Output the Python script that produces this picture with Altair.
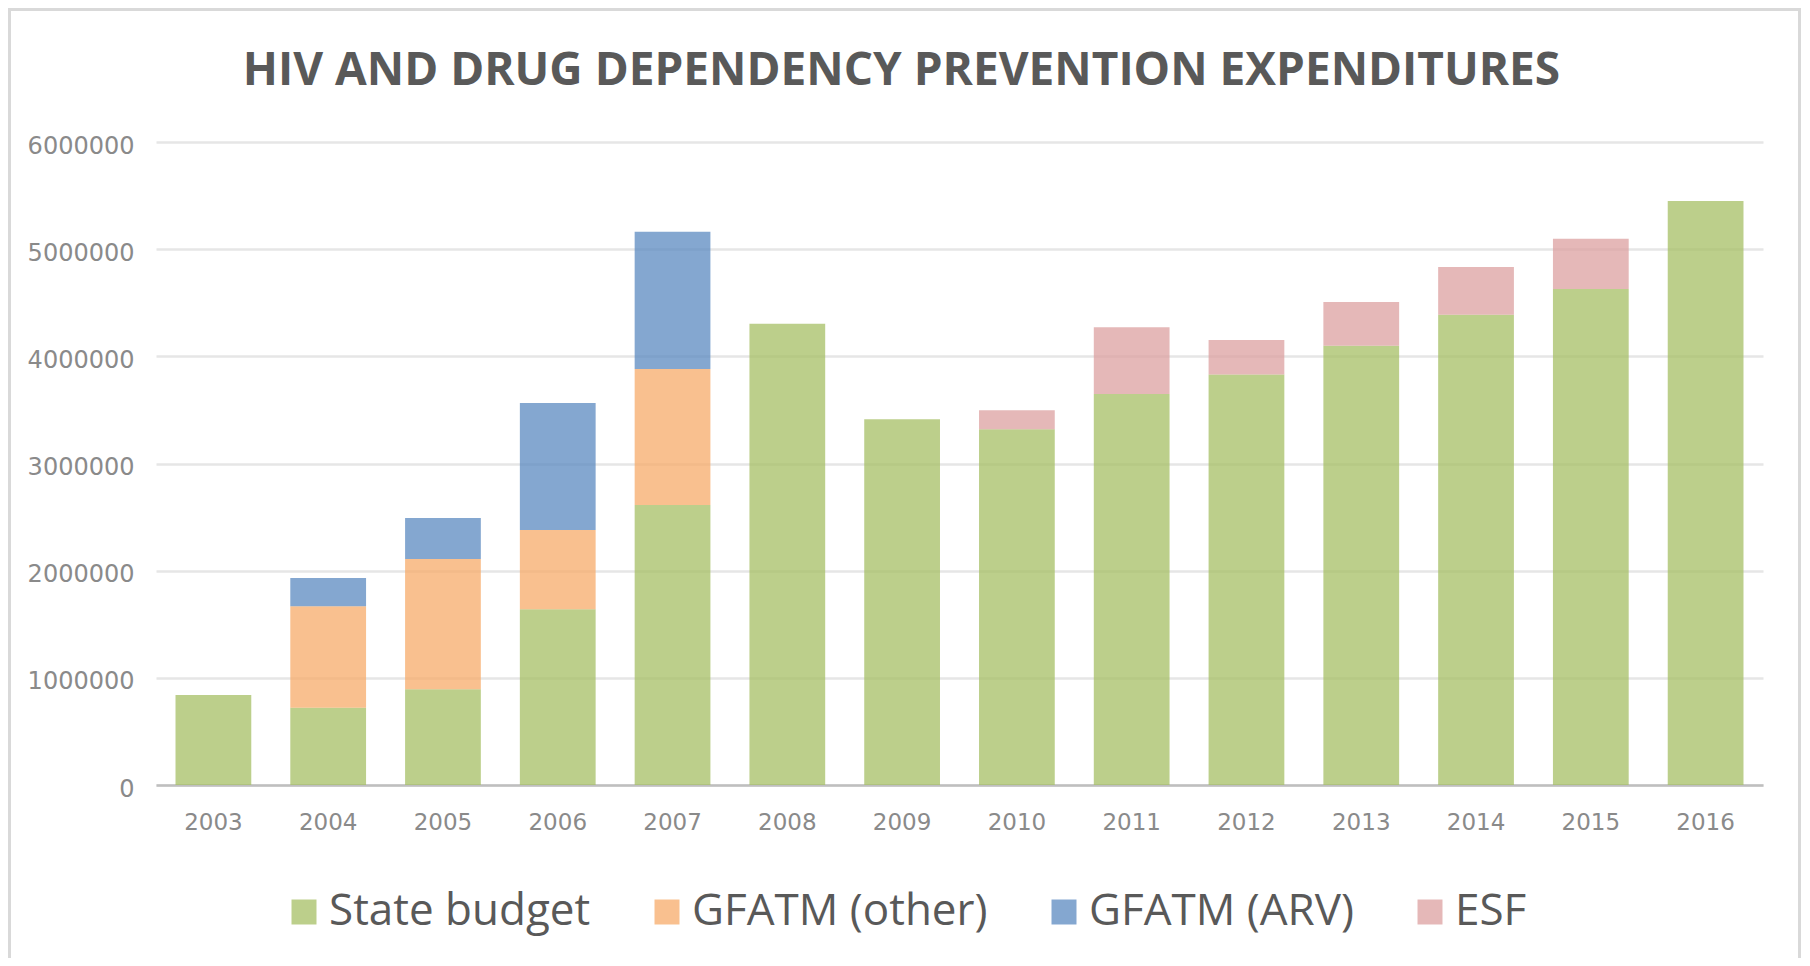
import altair as alt
import pandas as pd

years = [str(y) for y in range(2003, 2017)]
state_budget = [840000, 720000, 894000, 1641000, 2612000, 4303000, 3413000,
                3320000, 3649000, 3831000, 4098000, 4388000, 4628000, 5449000]
gfatm_other = [0, 948000, 1215000, 739000, 1270000, 0, 0, 0, 0, 0, 0, 0, 0, 0]
gfatm_arv = [0, 263000, 383000, 1184000, 1281000, 0, 0, 0, 0, 0, 0, 0, 0, 0]
esf = [0, 0, 0, 0, 0, 0, 0, 178000, 623000, 321000, 410000, 446000, 469000, 0]

series_names = ["State budget", "GFATM (other)", "GFATM (ARV)", "ESF"]
series_values = [state_budget, gfatm_other, gfatm_arv, esf]
series_colors = ["#A6BF64", "#F7AB6A", "#5B8AC0", "#DCA0A0"]

rows = []
for order, (name, vals) in enumerate(zip(series_names, series_values)):
    for yr, v in zip(years, vals):
        if v > 0:
            rows.append({"year": yr, "series": name, "value": v, "order": order})
df = pd.DataFrame(rows)

PLOT_W, PLOT_H = 1607, 643
PAD_L, PAD_T, PAD_R, PAD_B = 148, 134, 39, 173

bars = alt.Chart(df).mark_bar(opacity=0.75).encode(
    x=alt.X("year:N", sort=years,
            scale=alt.Scale(paddingInner=0.34, paddingOuter=0.17),
            axis=alt.Axis(title=None, labelAngle=0, ticks=False, grid=False,
                          domainColor="#bfbfbf", domainWidth=2.5,
                          labelFont="DejaVu Sans", labelFontSize=23,
                          labelColor="#8a8a8a", labelPadding=26)),
    y=alt.Y("value:Q", stack="zero",
            scale=alt.Scale(domain=[0, 6000000], nice=False),
            axis=alt.Axis(title=None, values=[0, 1000000, 2000000, 3000000, 4000000, 5000000, 6000000],
                          format="d", ticks=False, domain=False,
                          gridColor="#e6e6e6", gridWidth=2.5,
                          labelFont="DejaVu Sans", labelFontSize=24,
                          labelColor="#8a8a8a", labelPadding=22, labelOffset=4)),
    color=alt.Color("series:N",
                    scale=alt.Scale(domain=series_names, range=series_colors),
                    legend=alt.Legend(title=None, orient="none", legendX=126, legendY=748,
                                      direction="horizontal", symbolType="square",
                                      symbolSize=625, symbolStrokeWidth=0, symbolOpacity=0.75,
                                      labelFont="Open Sans", labelFontSize=44,
                                      labelColor="#595959", labelOffset=3,
                                      columnPadding=54, padding=0, labelLimit=400)),
    order=alt.Order("order:Q", sort="ascending"),
)

frame = alt.Chart(pd.DataFrame({"a": [0]})).mark_rect(
    filled=False, stroke="#d9d9d9", strokeWidth=3
).encode(
    x=alt.value(-146.5), x2=alt.value(PLOT_W + PAD_R - 2.5),
    y=alt.value(-132.5), y2=alt.value(PLOT_H + PAD_B + 20),
)

chart = alt.layer(bars, frame).properties(
    width=PLOT_W, height=PLOT_H,
    padding={"left": PAD_L, "top": PAD_T, "right": PAD_R, "bottom": PAD_B},
    autosize=alt.AutoSizeParams(type="none"),
    title=alt.TitleParams(
        text="HIV AND DRUG DEPENDENCY PREVENTION EXPENDITURES",
        font="Open Sans", fontSize=46, fontWeight="bold", color="#595959",
        anchor="middle", dx=-58, offset=0, dy=123, baseline="alphabetic",
    ),
).configure(background="white").configure_view(stroke="transparent", strokeWidth=0)

chart.save("out.html", embed_options={"renderer": "svg", "actions": False})
